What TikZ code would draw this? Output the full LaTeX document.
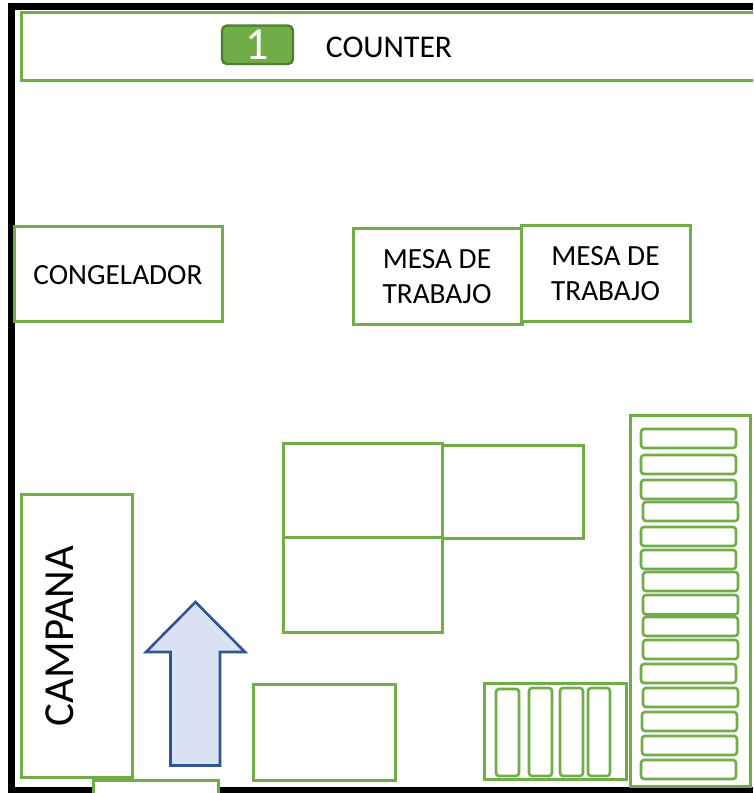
\documentclass[tikz,border=0pt]{standalone}
\usepackage{fontspec}
\setmainfont{Carlito}
\definecolor{grn}{HTML}{70AD47}
\definecolor{grndark}{HTML}{507E32}
\definecolor{blueline}{HTML}{2F5597}
\definecolor{bluefill}{HTML}{DAE3F3}
\tikzset{
  box/.style={draw=grn,line width=3pt,fill=white},
  bar/.style={draw=grn,line width=2.6pt,fill=white,rounded corners=3pt},
  wall/.style={draw=black,line width=6.5pt,line cap=butt,line join=miter},
  lbl/.style={font=\fontsize{29.3}{34.5}\selectfont,align=center,inner sep=0pt,text=black},
}
\begin{document}
\begin{tikzpicture}[x=1pt,y=-1pt]
\useasboundingbox (0,0) rectangle (753,793);
\clip (0,0) rectangle (753,793);
\fill[white] (0,0) rectangle (753,793);
% walls
\draw[wall] (753,6.5) -- (11.5,6.5) -- (11.5,790) -- (753,790);
% counter
\draw[box] (21,12) rectangle (760,80);
\draw[draw=grndark,line width=2.4pt,fill=grn,rounded corners=5pt] (222,25.5) rectangle (293,64);
\node[lbl,text=white,font=\fontsize{46}{50}\selectfont] (num) at (257.5,45) {1};
\node[lbl,font=\fontsize{31.6}{36}\selectfont] (counter) at (389,47.5) {COUNTER};
% middle row
\draw[box] (14,226) rectangle (222,321);
\node[lbl] (cong) at (118,275.5) {CONGELADOR};
\draw[box] (353,228) rectangle (522,324);
\node[lbl] (mesaA) at (437,276.5) {MESA DE\\TRABAJO};
\draw[box] (521,225) rectangle (690,321);
\node[lbl] (mesaB) at (605.5,273.5) {MESA DE\\TRABAJO};
% tables
\draw[box] (442,445) rectangle (583,538);
\draw[box] (283,443) rectangle (442,537);
\draw[box] (283,537) rectangle (442,632);
\draw[box] (253,684) rectangle (395,780);
% campana
\draw[box] (21,494) rectangle (132,777);
\node[lbl,rotate=90,font=\fontsize{42.8}{48}\selectfont] (camp) at (60,636) {CAMPANA};
% door
\draw[box] (93,780) rectangle (218,810);
% arrow
\draw[draw=blueline,line width=2.6pt,fill=bluefill,line join=miter]
  (195.5,602) -- (245,652) -- (220,652) -- (220,765.5) -- (170.5,765.5) -- (170.5,652) -- (146,652) -- cycle;
% small rack
\draw[box] (484,683) rectangle (626,779);
\foreach \a/\b/\c/\d in {496/519/689/776,529/552/688/776,560/583/688/776,588/610/688/776}
  \draw[bar] (\a,\c) rectangle (\b,\d);
% tall rack
\draw[box] (630,415) rectangle (750,786);
\foreach \a/\b/\c/\d in {
 641/736/429/448,641/736/455/474,641/736/480/499,643/738/502/521,
 641/736/527/546,641/736/550/569,643/738/572/591,643/738/595/614.5,
 643/738/617/636,643/738/640/659,641/736/664/683,643/738/688/707,
 642/737/712/731,642/737/736/755,641/736/760/779}
  \draw[bar] (\a,\c) rectangle (\b,\d);
\end{tikzpicture}
\end{document}
